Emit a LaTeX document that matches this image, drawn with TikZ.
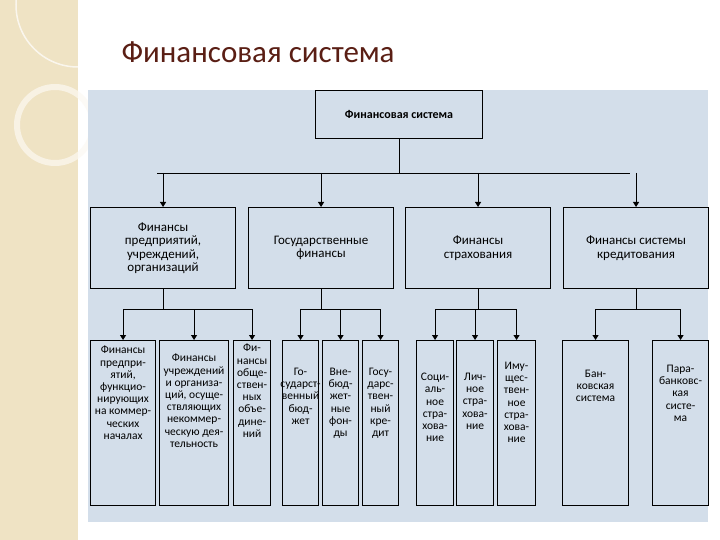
\documentclass[tikz,border=0pt]{standalone}
\usepackage{fontspec}
\setmainfont{Carlito}
\usetikzlibrary{arrows.meta}
\definecolor{panel}{HTML}{D3DEEA}
\definecolor{beige}{HTML}{EFE3C4}
\definecolor{ttl}{HTML}{5A1E14}
\begin{document}
\begin{tikzpicture}[x=1pt,y=-1pt,
  bx/.style={draw=black,line width=1.1pt,fill=panel,align=center,inner sep=1pt,
    font=\fontsize{10.5}{11}\selectfont,anchor=north west},
  arr/.style={line width=0.9pt,-{Triangle[length=5pt,width=6pt]}},
  ln/.style={line width=0.9pt}]
\useasboundingbox (0,0) rectangle (720,540);
\fill[white] (0,0) rectangle (720,540);
\fill[beige] (0,0) rectangle (78,540);
\draw[white,line width=1.5pt,opacity=0.7] (78,5) circle (62);
\draw[white!80!beige,line width=6pt,opacity=0.7] (55,125) circle (38);
\node[text=ttl,font=\fontsize{31}{34}\selectfont,anchor=west] (title) at (118,52) {Финансовая система};
\fill[panel] (88,90) rectangle (708,522);
\node[bx,minimum width=167pt,minimum height=48pt,font=\fontsize{12}{12}\selectfont\bfseries] (top) at (315,90) {Финансовая система};
% level 2
\foreach \n/\x/\t in {a/90/{Финансы\\предприятий,\\учреждений,\\организаций},b/248/{Государственные\\финансы},c/405/{Финансы\\страхования},d/563/{Финансы системы\\кредитования}}
  \node[bx,minimum width=145pt,minimum height=81pt,font=\fontsize{13}{13.5}\selectfont] (\n) at (\x,207) {\t};
\coordinate (h0) at (top.south |- 0,173);
\draw[ln] (top.south) -- (h0);
\draw[ln] (157,173) -- (630,173);
\foreach \n in {a,b,c,d} \draw[arr] (\n.north |- h0) -- (\n.north);
% level 3
\foreach \n/\x/\w in {a1/90/65,a2/159/69,a3/233/37,b1/282/36,b2/322/36,b3/362/36,c1/416/37,c2/456/37,c3/497/38,d1/562/66,d2/652/56}
  \node[bx,minimum width=\w pt,minimum height=165pt] (\n) at (\x,340) {};
\foreach \n/\t/\dy in {
 a1/{Финансы\\предпри-\\ятий,\\функцио-\\нирующих\\на коммер-\\ческих\\началах}/6,
 a2/{Финансы\\учреждений\\и организа-\\ций, осуще-\\ствляющих\\некоммер-\\ческую дея-\\тельность}/14,
 a3/{Фи-\\нансы\\обще-\\ствен-\\ных\\объе-\\дине-\\ний}/4,
 b1/{Го-\\сударст-\\венный\\бюд-\\жет}/28,
 b2/{Вне-\\бюд-\\жет-\\ные\\фон-\\ды}/28,
 b3/{Госу-\\дарс-\\твен-\\ный\\кре-\\дит}/28,
 c1/{Соци-\\аль-\\ное\\стра-\\хова-\\ние}/33,
 c2/{Лич-\\ное\\стра-\\хова-\\ние}/33,
 c3/{Иму-\\щес-\\твен-\\ное\\стра-\\хова-\\ние}/22,
 d1/{Бан-\\ковская\\система}/30,
 d2/{Пара-\\банковс-\\кая\\систе-\\ма}/25}
  \node[align=center,anchor=north,inner sep=0pt,font=\fontsize{11.5}{12.2}\selectfont] (\n t) at ([yshift=-\dy pt]\n.north) {\t};
% connectors level 2->3
\foreach \p/\cs/\l/\r in {a/{a1,a2,a3}/a1/a3,b/{b1,b2,b3}/b1/b3,c/{c1,c2,c3}/c1/c3,d/{d1,d2}/d1/d2}{
  \coordinate (\p h) at ([yshift=-20pt]\p.south);
  \draw[ln] (\p.south) -- (\p h);
  \draw[ln] (\l.north |- \p h) -- (\r.north |- \p h);
  \foreach \c in \cs \draw[arr] (\c.north |- \p h) -- (\c.north);
}
\end{tikzpicture}
\end{document}
